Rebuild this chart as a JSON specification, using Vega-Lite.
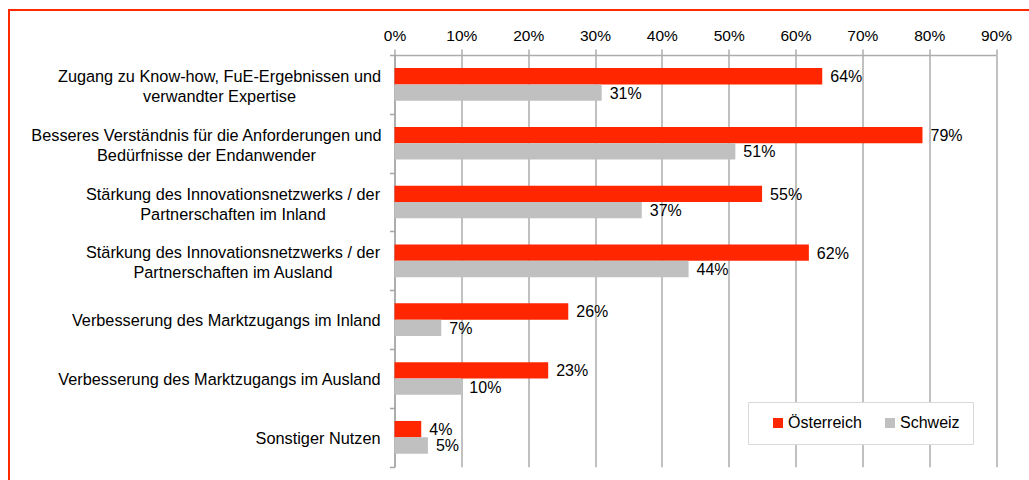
{
  "$schema": "https://vega.github.io/schema/vega-lite/v6.json",
  "width": 601.5,
  "height": 411.7,
  "autosize": {"type": "none"},
  "padding": {"left": 394.5, "top": 55, "right": 33, "bottom": 13.3},
  "background": "white",
  "config": {
    "view": {"stroke": null},
    "font": "Liberation Sans"
  },
  "data": {
    "values": [
      {"Nutzen": "Zugang zu Know-how, FuE-Ergebnissen und\nverwandter Expertise", "Land": "Österreich", "Anteil": 0.64},
      {"Nutzen": "Zugang zu Know-how, FuE-Ergebnissen und\nverwandter Expertise", "Land": "Schweiz", "Anteil": 0.31},
      {"Nutzen": "Besseres Verständnis für die Anforderungen und\nBedürfnisse der Endanwender", "Land": "Österreich", "Anteil": 0.79},
      {"Nutzen": "Besseres Verständnis für die Anforderungen und\nBedürfnisse der Endanwender", "Land": "Schweiz", "Anteil": 0.51},
      {"Nutzen": "Stärkung des Innovationsnetzwerks / der\nPartnerschaften im Inland", "Land": "Österreich", "Anteil": 0.55},
      {"Nutzen": "Stärkung des Innovationsnetzwerks / der\nPartnerschaften im Inland", "Land": "Schweiz", "Anteil": 0.37},
      {"Nutzen": "Stärkung des Innovationsnetzwerks / der\nPartnerschaften im Ausland", "Land": "Österreich", "Anteil": 0.62},
      {"Nutzen": "Stärkung des Innovationsnetzwerks / der\nPartnerschaften im Ausland", "Land": "Schweiz", "Anteil": 0.44},
      {"Nutzen": "Verbesserung des Marktzugangs im Inland", "Land": "Österreich", "Anteil": 0.26},
      {"Nutzen": "Verbesserung des Marktzugangs im Inland", "Land": "Schweiz", "Anteil": 0.07},
      {"Nutzen": "Verbesserung des Marktzugangs im Ausland", "Land": "Österreich", "Anteil": 0.23},
      {"Nutzen": "Verbesserung des Marktzugangs im Ausland", "Land": "Schweiz", "Anteil": 0.10},
      {"Nutzen": "Sonstiger Nutzen", "Land": "Österreich", "Anteil": 0.04},
      {"Nutzen": "Sonstiger Nutzen", "Land": "Schweiz", "Anteil": 0.05}
    ]
  },
  "layer": [
    {
      "encoding": {
        "y": {
          "field": "Nutzen",
          "type": "nominal",
          "sort": null,
          "scale": {"paddingInner": 0, "paddingOuter": 0},
          "axis": {
            "title": null,
            "orient": "left",
            "domainColor": "#a6a6a6",
            "domainWidth": 1.5,
            "tickColor": "#a6a6a6",
            "tickWidth": 1.5,
            "tickSize": 5,
            "tickBand": "extent",
            "labelExpr": "split(datum.label, '\\n')",
            "labelLineHeight": 20,
            "labelFontSize": 16.3,
            "labelColor": "#000000",
            "labelLimit": 0,
            "labelBaseline": "middle",
            "labelAlign": {"condition": {"test": "indexof('' + datum.value, '\\n') >= 0", "value": "center"}, "value": "right"},
            "labelOffset": {"condition": {"test": "indexof('' + datum.value, '\\n') >= 0", "value": -8}, "value": 1},
            "labelPadding": {
              "condition": [
                {"test": "indexof('' + datum.value, 'Zugang') >= 0", "value": 170.5},
                {"test": "indexof('' + datum.value, 'Besseres') >= 0", "value": 183.5},
                {"test": "indexof('' + datum.value, 'Innovationsnetzwerks') >= 0", "value": 157}
              ],
              "value": 9.5
            }
          }
        },
        "yOffset": {
          "field": "Land",
          "type": "nominal",
          "sort": ["Österreich", "Schweiz"],
          "scale": {"paddingOuter": 0.8, "paddingInner": 0}
        },
        "x": {
          "field": "Anteil",
          "type": "quantitative",
          "scale": {"domain": [0, 0.9], "nice": false, "zero": true},
          "axis": {
            "title": null,
            "orient": "top",
            "format": ".0%",
            "values": [0, 0.1, 0.2, 0.3, 0.4, 0.5, 0.6, 0.7, 0.8, 0.9],
            "grid": true,
            "gridColor": "#adadad",
            "gridWidth": 1.5,
            "domainColor": "#adadad",
            "domainWidth": 1.5,
            "tickColor": "#adadad",
            "tickWidth": 1.5,
            "tickSize": 6,
            "labelFlush": false,
            "labelFontSize": 15.5,
            "labelColor": "#000000",
            "labelPadding": 6
          }
        }
      },
      "layer": [
        {
          "mark": {"type": "bar"},
          "encoding": {
            "color": {
              "field": "Land",
              "type": "nominal",
              "scale": {"domain": ["Österreich", "Schweiz"], "range": ["#ff2600", "#c0c0c0"]},
              "legend": {
                "title": null,
                "orient": "none",
                "legendX": 353.5,
                "legendY": 347,
                "direction": "horizontal",
                "symbolType": "square",
                "symbolSize": 100,
                "labelFontSize": 16,
                "labelColor": "#000000",
                "labelOffset": 2,
                "columnPadding": 11,
                "symbolOffset": 9,
                "padding": 13,
                "strokeColor": "#d9d9d9",
                "fillColor": "#ffffff"
              }
            }
          }
        },
        {
          "mark": {"type": "text", "align": "left", "baseline": "middle", "dx": 8, "dy": 1, "fontSize": 16, "color": "#000000"},
          "encoding": {
            "text": {"field": "Anteil", "type": "quantitative", "format": ".0%"}
          }
        }
      ]
    },
    {
      "data": {"values": [{"Rahmen": "Rahmen"}]},
      "mark": {"type": "rect", "fill": null, "stroke": "#ff2a00", "strokeWidth": 2, "clip": false},
      "encoding": {
        "x": {"datum": 0, "type": "quantitative", "scale": {"domain": [0, 1], "range": [-385.5, 660]}, "axis": null},
        "x2": {"datum": 1},
        "y": {"datum": 0, "type": "quantitative", "scale": {"domain": [0, 1], "range": [-45, 440]}, "axis": null},
        "y2": {"datum": 1}
      }
    }
  ],
  "resolve": {"scale": {"x": "independent", "y": "independent"}}
}
